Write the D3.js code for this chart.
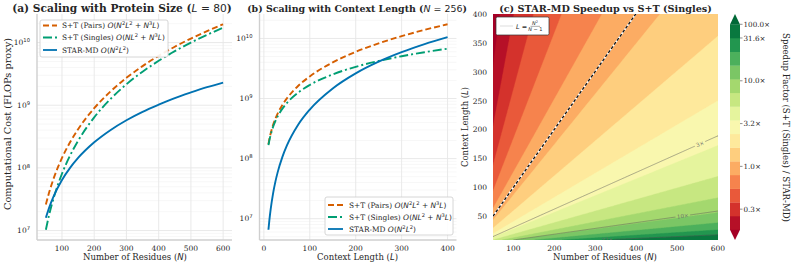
<!DOCTYPE html>
<html>
<head>
<meta charset="utf-8">
<script src="https://cdn.jsdelivr.net/npm/d3@7"></script>
<style>
  body { margin: 0; background: #fff; }
  text { font-family: "DejaVu Serif", serif; fill: #262626; }
</style>
</head>
<body>
<script>
// ---- values ----
// (a) sweep over protein size, L = 80
var sizeN      = [50, 60, 75, 100, 125, 150, 200, 250, 300, 350, 400, 450, 500, 550, 600];
var sizePairs  = [2.6e7, 4.03e7, 6.98e7, 1.44e8, 2.56e8, 4.14e8, 8.96e8, 1.65e9, 2.74e9, 4.21e9, 6.14e9, 8.59e9, 1.16e10, 1.52e10, 1.96e10];
var sizeSingle = [1.03e7, 1.77e7, 3.42e7, 8.06e7, 1.57e8, 2.71e8, 6.41e8, 1.25e9, 2.16e9, 3.43e9, 5.12e9, 7.29e9, 1.0e10, 1.33e10, 1.73e10];
var sizeStar   = [1.6e7, 2.3e7, 3.6e7, 6.4e7, 1.0e8, 1.44e8, 2.56e8, 4.0e8, 5.76e8, 7.84e8, 1.02e9, 1.30e9, 1.6e9, 1.94e9, 2.3e9];

// (b) sweep over context length, N = 256
var ctxL      = [10, 12, 15, 20, 25, 30, 40, 50, 75, 100, 150, 200, 250, 300, 350, 400];
var ctxPairs  = [1.74e8, 2.11e8, 2.66e8, 3.62e8, 4.60e8, 5.62e8, 7.76e8, 1.00e9, 1.63e9, 2.33e9, 3.99e9, 5.98e9, 8.29e9, 1.09e10, 1.39e10, 1.72e10];
var ctxSingle = [1.68e8, 2.01e8, 2.52e8, 3.36e8, 4.20e8, 5.04e8, 6.72e8, 8.40e8, 1.26e9, 1.68e9, 2.52e9, 3.37e9, 4.21e9, 5.06e9, 5.90e9, 6.75e9];
var ctxStar   = [6.55e6, 9.44e6, 1.47e7, 2.62e7, 4.10e7, 5.90e7, 1.05e8, 1.64e8, 3.69e8, 6.55e8, 1.47e9, 2.62e9, 4.10e9, 5.90e9, 8.03e9, 1.05e10];

// (c) speedup map: log10 band edges, colorbar ticks, iso-lines, break-even line
var speedLevels = [-0.74, -0.58, -0.42, -0.26, -0.10, 0.06, 0.22, 0.38, 0.54, 0.70, 0.86, 1.02, 1.18, 1.34, 1.50, 2.0];
var cbarTicks   = [-0.5, 0, 0.5, 1, 1.5, 2];
var isoLevels   = [0.5, 1, 1.5];
var isoLabels   = ["3×", "10×", "32×"];
var isoLabelN   = [556, 514, 329];
var boundaryN   = [50, 100, 200, 300, 400, 450];
var boundaryL   = [51.0, 101.0, 201.0, 301.0, 401.0, 451.0];

var seriesColor = ["#D55E00", "#009E73", "#0072B2"];
var seriesDash  = ["6,3", "9,3,2,3", null];
var legendSegs = [
  [["S+T (Pairs) "], ["O", "cal"], ["(", "m"], ["N", "mi"], ["2", "sup"], ["L", "mi"], ["2", "sup"], [" + ", "m"], ["N", "mi"], ["3", "sup"], ["L", "mi"], [")", "m"]],
  [["S+T (Singles) "], ["O", "cal"], ["(", "m"], ["N", "mi"], ["L", "mi"], ["2", "sup"], [" + ", "m"], ["N", "mi"], ["3", "sup"], ["L", "mi"], [")", "m"]],
  [["STAR-MD "], ["O", "cal"], ["(", "m"], ["N", "mi"], ["2", "sup"], ["L", "mi"], ["2", "sup"], [")", "m"]]
];

var svg = d3.select("body").append("svg").attr("width", 793).attr("height", 268);
var TOP = 14, BOT = 240;

function pad(lo, hi) { var d = (hi - lo) * 0.05; return [lo - d, hi + d]; }
function logPad(vals) {
  var lo = Math.log10(d3.min(vals)), hi = Math.log10(d3.max(vals)), d = (hi - lo) * 0.05;
  return [Math.pow(10, lo - d), Math.pow(10, hi + d)];
}

// text made of pieces: plain serif, math (sans), math italic, superscript
function rich(t, segs, fs) {
  var shift = 0;
  segs.forEach(function (s) {
    var k = s[1] || "";
    var sp = t.append("tspan").text(s[0]);
    if (k) sp.style("font-family", "'DejaVu Sans', sans-serif").style("font-weight", "normal");
    if (k === "mi") sp.style("font-style", "italic");
    if (k === "cal") sp.style("font-family", "'DejaVu Serif', serif").style("font-style", "italic");
    var want = 0;
    if (k === "sup") { sp.style("font-size", (fs * 0.7) + "px"); want = -fs * 0.38; }
    if (want !== shift) { sp.attr("dy", want - shift); shift = want; }
  });
  return t;
}
function fit(t, w) {
  var fs = parseFloat(t.style("font-size"));
  var len = t.node().getComputedTextLength();
  t.style("font-size", (fs * w / len) + "px");
}

function legend(x0, y0, w, h, rowY, hx0, hx1, tx) {
  var g = svg.append("g");
  g.append("rect").attr("x", x0).attr("y", y0).attr("width", w).attr("height", h)
    .attr("rx", 2).attr("fill", "#fff").attr("fill-opacity", 0.9)
    .attr("stroke", "#cccccc").attr("stroke-width", 0.8);
  legendSegs.forEach(function (segs, i) {
    g.append("line").attr("x1", hx0).attr("x2", hx1).attr("y1", rowY[i]).attr("y2", rowY[i])
      .attr("stroke", seriesColor[i]).attr("stroke-width", 1.8)
      .attr("stroke-dasharray", seriesDash[i]);
    var t = g.append("text").attr("x", tx).attr("y", rowY[i] + 2.6).style("font-size", "7.4px");
    rich(t, segs, 7.4);
  });
}

function linePanel(o) {
  var g = svg.append("g");
  var x = d3.scaleLinear().domain(pad(d3.min(o.xs), d3.max(o.xs))).range([o.left, o.right]);
  var y = d3.scaleLog().domain(logPad([].concat.apply([], o.series))).range([BOT, TOP]);

  y.ticks().forEach(function (v) {
    var major = Math.abs(Math.log10(v) - Math.round(Math.log10(v))) < 1e-9;
    g.append("line").attr("x1", o.left).attr("x2", o.right).attr("y1", y(v)).attr("y2", y(v))
      .attr("stroke", major ? "#e6e6e6" : "#f1f1f1").attr("stroke-width", major ? 0.9 : 0.6);
  });
  x.ticks(6).forEach(function (v) {
    g.append("line").attr("x1", x(v)).attr("x2", x(v)).attr("y1", TOP).attr("y2", BOT)
      .attr("stroke", "#e6e6e6").attr("stroke-width", 0.9);
    g.append("text").attr("x", x(v)).attr("y", 251).attr("text-anchor", "middle")
      .style("font-size", "7.5px").text(v);
  });
  y.ticks().filter(function (v) { return Math.abs(Math.log10(v) - Math.round(Math.log10(v))) < 1e-9; })
    .forEach(function (v) {
      var t = g.append("text").attr("x", o.left - 7).attr("y", y(v) + 2.6).attr("text-anchor", "end")
        .style("font-size", "7.5px");
      rich(t, [["10"], [String(Math.round(Math.log10(v))), "sup"]], 7.5);
    });

  g.append("line").attr("x1", o.left).attr("x2", o.left).attr("y1", TOP).attr("y2", BOT)
    .attr("stroke", "#cfcfcf").attr("stroke-width", 1.4);
  g.append("line").attr("x1", o.left).attr("x2", o.right).attr("y1", BOT).attr("y2", BOT)
    .attr("stroke", "#cfcfcf").attr("stroke-width", 1.4);

  o.series.forEach(function (vals, i) {
    g.append("path").datum(vals)
      .attr("d", d3.line().x(function (d, k) { return x(o.xs[k]); }).y(function (d) { return y(d); })
        .curve(d3.curveMonotoneX))
      .attr("fill", "none").attr("stroke", seriesColor[i]).attr("stroke-width", 1.9)
      .attr("stroke-dasharray", seriesDash[i]);
  });

  var tt = g.append("text").attr("x", o.titleX).attr("y", 11.5).attr("text-anchor", "middle")
    .style("font-weight", "bold").style("font-size", "10px");
  rich(tt, o.title, 10);
  fit(tt, o.titleW);
  var xl = g.append("text").attr("x", o.xlabelX).attr("y", 260).attr("text-anchor", "middle")
    .style("font-size", "8.5px");
  rich(xl, o.xlabel, 8.5);
  fit(xl, o.xlabelW);
  return g;
}

// ---- (a) ----
linePanel({
  xs: sizeN, series: [sizePairs, sizeSingle, sizeStar], left: 37, right: 232,
  title: [["(a) Scaling with Protein Size ("], ["L", "mi"], [" = 80", "m"], [")"]], titleX: 122, titleW: 220,
  xlabel: [["Number of Residues ("], ["N", "mi"], [")"]], xlabelX: 135, xlabelW: 104
});
var yla = svg.append("text").attr("transform", "translate(11,124) rotate(-90)")
  .attr("text-anchor", "middle").style("font-size", "8.5px").text("Computational Cost (FLOPs proxy)");
fit(yla, 172);
legend(40, 20, 128, 37, [25.5, 37.5, 50], 43, 57, 62);

// ---- (b) ----
linePanel({
  xs: ctxL, series: [ctxPairs, ctxSingle, ctxStar], left: 259.5, right: 456.5,
  title: [["(b) Scaling with Context Length ("], ["N", "mi"], [" = 256", "m"], [")"]], titleX: 357, titleW: 220,
  xlabel: [["Context Length ("], ["L", "mi"], [")"]], xlabelX: 357.5, xlabelW: 81
});
legend(325, 197, 128, 38, [205, 217, 229], 328, 343, 349);

// ---- (c) ----
var cN0 = 50, cN1 = 600, cL0 = 10, cL1 = 400, step = 2.5;
var nx = Math.round((cN1 - cN0) / step) + 1, ny = Math.round((cL1 - cL0) / step) + 1;
// speedup of STAR-MD over S+T (Singles), from the complexities in the legends
function speedup(n, l) { return (n * l * l + n * n * n * l) / (n * n * l * l); }
var field = [];
for (var j = 0; j < ny; j++) for (var i = 0; i < nx; i++)
  field.push(Math.log10(speedup(cN0 + i * step, cL0 + j * step)));

var xc = d3.scaleLinear().domain([cN0, cN1]).range([493, 718]);
var yc = d3.scaleLinear().domain([cL0, cL1]).range([BOT, TOP]);
var gridProj = d3.geoTransform({ point: function (px, py) {
  this.stream.point(xc(cN0 + (px - 0.5) * step), yc(cL0 + (py - 0.5) * step));
}});
var cpath = d3.geoPath(gridProj);

var nb = speedLevels.length - 1;
var bandColor = d3.range(nb).map(function (k) { return d3.interpolateRdYlGn((k + 0.5) / nb); });
var underColor = d3.interpolateRdYlGn(0), overColor = d3.interpolateRdYlGn(1);

var defs = svg.append("defs");
defs.append("clipPath").attr("id", "cclip").append("rect")
  .attr("x", xc(cN0)).attr("y", yc(cL1)).attr("width", xc(cN1) - xc(cN0)).attr("height", yc(cL0) - yc(cL1));

var gc = svg.append("g").attr("clip-path", "url(#cclip)");
gc.append("rect").attr("x", xc(cN0)).attr("y", yc(cL1)).attr("width", xc(cN1) - xc(cN0))
  .attr("height", yc(cL0) - yc(cL1)).attr("fill", underColor);
d3.contours().size([nx, ny]).thresholds(speedLevels)(field).forEach(function (c, k) {
  var col = k < nb ? bandColor[k] : overColor;
  gc.append("path").attr("d", cpath(c)).attr("fill", col).attr("stroke", col).attr("stroke-width", 0.4);
});

// iso-lines with inline labels
var mask = defs.append("mask").attr("id", "isomask");
mask.append("rect").attr("x", 480).attr("y", 0).attr("width", 260).attr("height", 268).attr("fill", "#fff");
function isoL(v, n) { return n / (Math.pow(10, v) - 1 / n); }
var gl = gc.append("g");
isoLevels.forEach(function (v, k) {
  var n = isoLabelN[k], px = xc(n), py = yc(isoL(v, n));
  var a = Math.atan2(yc(isoL(v, n + 20)) - yc(isoL(v, n - 20)), xc(n + 20) - xc(n - 20)) * 180 / Math.PI;
  var w = isoLabels[k].length * 3.6 + 4;
  mask.append("rect").attr("x", -w / 2).attr("y", -3.5).attr("width", w).attr("height", 7).attr("fill", "#000")
    .attr("transform", "translate(" + px + "," + py + ") rotate(" + a + ")");
  gl.append("text").attr("transform", "translate(" + px + "," + py + ") rotate(" + a + ")")
    .attr("y", 2).attr("text-anchor", "middle").style("font-size", "5.5px").style("fill", "#6b6b6b")
    .text(isoLabels[k]);
});
gl.append("g").attr("mask", "url(#isomask)").selectAll("path")
  .data(d3.contours().size([nx, ny]).thresholds(isoLevels)(field))
  .enter().append("path").attr("d", cpath)
  .attr("fill", "none").attr("stroke", "#5a5a5a").attr("stroke-opacity", 0.7).attr("stroke-width", 0.7);

// break-even line
var bl = d3.line().x(function (d, k) { return xc(boundaryN[k]); }).y(function (d) { return yc(d); });
gc.append("path").datum(boundaryL).attr("d", bl).attr("fill", "none").attr("stroke", "#fff").attr("stroke-width", 1.6);
gc.append("path").datum(boundaryL).attr("d", bl).attr("fill", "none").attr("stroke", "#111")
  .attr("stroke-width", 1.3).attr("stroke-dasharray", "3,2");

// axes text
xc.ticks(6).filter(function (v) { return v >= 100; }).forEach(function (v) {
  svg.append("text").attr("x", xc(v)).attr("y", 251).attr("text-anchor", "middle").style("font-size", "7.5px").text(v);
});
d3.range(50, 401, 50).forEach(function (v) {
  svg.append("text").attr("x", 487).attr("y", yc(v) + 2.6).attr("text-anchor", "end").style("font-size", "7.5px").text(v);
});
var tc = svg.append("text").attr("x", 605.5).attr("y", 11.5).attr("text-anchor", "middle")
  .style("font-weight", "bold").style("font-size", "10px").text("(c) STAR-MD Speedup vs S+T (Singles)");
fit(tc, 213);
var xlc = svg.append("text").attr("x", 605).attr("y", 260).attr("text-anchor", "middle").style("font-size", "8.5px");
rich(xlc, [["Number of Residues ("], ["N", "mi"], [")"]], 8.5);
fit(xlc, 104);
var ylc = svg.append("text").attr("transform", "translate(468,127) rotate(-90)").attr("text-anchor", "middle")
  .style("font-size", "8.5px");
rich(ylc, [["Context Length ("], ["L", "mi"], [")"]], 8.5);
fit(ylc, 80);

// legend of (c)
var lg = svg.append("g");
lg.append("rect").attr("x", 496).attr("y", 17).attr("width", 53).attr("height", 18).attr("rx", 1.5)
  .attr("fill", "#fff").attr("stroke", "#333").attr("stroke-width", 0.7);
lg.append("line").attr("x1", 500).attr("x2", 513).attr("y1", 26).attr("y2", 26).attr("stroke", "#eeeeee").attr("stroke-width", 2);
lg.append("text").attr("x", 516).attr("y", 28.5).style("font-family", "'DejaVu Sans', sans-serif")
  .style("font-size", "6.5px").html("<tspan font-style='italic'>L</tspan> =");
lg.append("text").attr("x", 535).attr("y", 25).attr("text-anchor", "middle").style("font-family", "'DejaVu Sans', sans-serif")
  .style("font-size", "5px").html("<tspan font-style='italic'>N</tspan><tspan dy='-1.6' font-size='3.5px'>2</tspan>");
lg.append("line").attr("x1", 530.5).attr("x2", 540).attr("y1", 26.3).attr("y2", 26.3).attr("stroke", "#262626").attr("stroke-width", 0.4);
lg.append("text").attr("x", 535.3).attr("y", 31).attr("text-anchor", "middle").style("font-family", "'DejaVu Sans', sans-serif")
  .style("font-size", "5px").html("<tspan font-style='italic'>N</tspan> − 1");

// colorbar
var cbX = 730, cbW = 10, cbTop = 24.3, cbBot = 229.7, bandH = (cbBot - cbTop) / nb;
var cbPos = d3.scaleLinear().domain(speedLevels).range(speedLevels.map(function (v, k) { return cbBot - k * bandH; }));
var gcb = svg.append("g");
bandColor.forEach(function (col, k) {
  gcb.append("rect").attr("x", cbX).attr("width", cbW).attr("y", cbPos(speedLevels[k + 1]))
    .attr("height", bandH + 0.3).attr("fill", col);
});
gcb.append("path").attr("d", "M" + cbX + "," + (cbTop + 0.3) + "L" + (cbX + cbW) + "," + (cbTop + 0.3) + "L" + (cbX + cbW / 2) + "," + TOP + "Z").attr("fill", overColor);
gcb.append("path").attr("d", "M" + cbX + "," + cbBot + "L" + (cbX + cbW) + "," + cbBot + "L" + (cbX + cbW / 2) + "," + BOT + "Z").attr("fill", underColor);
cbarTicks.forEach(function (v) {
  var yy = cbPos(v);
  gcb.append("line").attr("x1", cbX + cbW).attr("x2", cbX + cbW + 2.5).attr("y1", yy).attr("y2", yy).attr("stroke", "#444").attr("stroke-width", 0.6);
  gcb.append("text").attr("x", cbX + cbW + 3.5).attr("y", yy + 2.6).style("font-size", "7.2px")
    .text(Math.pow(10, v).toFixed(1) + "×");
});
var cbl = svg.append("text").attr("transform", "translate(783,127.5) rotate(90)").attr("text-anchor", "middle")
  .style("font-size", "8.5px").text("Speedup Factor (S+T (Singles) / STAR-MD)");
fit(cbl, 189);
</script>
</body>
</html>
